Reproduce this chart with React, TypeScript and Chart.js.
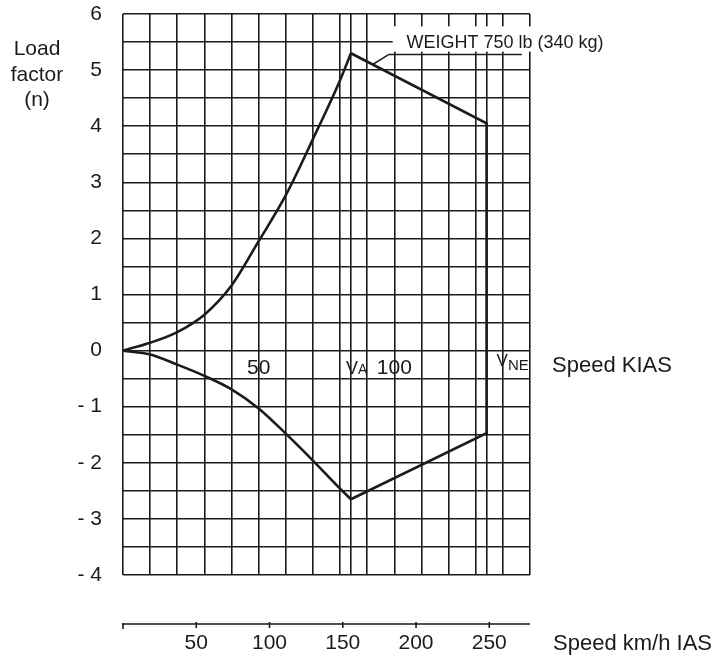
import React, { useEffect, useRef } from 'react';
import { Chart, registerables } from 'chart.js';
Chart.register(...registerables);

// ---- data ----
const KT_MIN = 0;
const KT_MAX = 150;
const N_MIN = -4;
const N_MAX = 6;
const KT_GRID = [0, 10, 20, 30, 40, 50, 60, 70, 80, 90, 100, 110, 120, 130, 140, 150];
const VA = 84;
const VNE = 134;
const N_GRID_STEP = 0.5;
const upperSpeeds = [0, 10, 20, 30, 40, 50, 60, 70, 80, 84];
const upperLoad = [0, 0.14, 0.33, 0.64, 1.16, 1.95, 2.77, 3.77, 4.82, 5.3];
const edgeSpeeds = [84, 134, 134, 84];
const edgeLoad = [5.3, 4.05, -1.47, -2.65];
const lowerSpeeds = [0, 10, 20, 30, 40, 50, 60, 70, 80, 84];
const lowerLoad = [0, -0.07, -0.25, -0.45, -0.69, -1.03, -1.48, -1.96, -2.46, -2.65];
const KMH_PER_KT = 1.852;
const kmhTicks = [50, 100, 150, 200, 250];
const ktLabels = [50, 100];
const weightText = 'WEIGHT 750 lb (340 kg)';
// annotation anchor points (kt, n)
const leaderTip = [92, 5.1];
const leaderElbow = [98, 5.28];
const leaderEndKt = 147;
const weightTextAt = [104.5, 5.39];
const weightBox = [99.4, 5.78, 5.33];

const INK = '#1b1b1b';
const FONT = "'Liberation Sans', Arial, Helvetica, sans-serif";

const fmtLoad = (v: number) => {
  if (Math.abs(v - Math.round(v)) > 1e-6) return '';
  const r = Math.round(v);
  return r < 0 ? '- ' + Math.abs(r) : String(r);
};

const pts = (xs: number[], ys: number[]) => xs.map((x, i) => ({ x, y: ys[i] }));

const overlay = {
  id: 'overlay',
  afterDraw(chart: any) {
    const { ctx } = chart;
    const x = chart.scales.x;
    const y = chart.scales.y;
    const x2 = chart.scales.x2;
    ctx.save();
    ctx.fillStyle = INK;
    ctx.strokeStyle = INK;

    // Load factor title
    ctx.font = `21px ${FONT}`;
    ctx.textAlign = 'center';
    ctx.textBaseline = 'alphabetic';
    ctx.fillText('Load', 37, 55);
    ctx.fillText('factor', 37, 81);
    ctx.fillText('(n)', 37, 106);

    // KIAS labels on zero line
    const y0 = y.getPixelForValue(0);
    ctx.font = `21px ${FONT}`;
    ktLabels.forEach((v) => {
      ctx.fillText(String(v), x.getPixelForValue(v), y0 + 23.5);
    });
    ctx.textAlign = 'left';
    // VA
    let px = x.getPixelForValue(VA) - 5;
    ctx.font = `18px ${FONT}`;
    ctx.fillText('V', px, y0 + 23.5);
    px += ctx.measureText('V').width;
    ctx.font = `14px ${FONT}`;
    ctx.fillText('A', px, y0 + 23.5);
    // VNE
    px = x.getPixelForValue(VNE) + 10;
    ctx.font = `17px ${FONT}`;
    ctx.fillText('V', px, y0 + 15.5);
    px += ctx.measureText('V').width;
    ctx.font = `15px ${FONT}`;
    ctx.fillText('NE', px, y0 + 19.5);

    ctx.font = `22px ${FONT}`;
    ctx.fillText('Speed KIAS', x.right + 22, y0 + 21.5);

    // km/h axis line and ticks
    const axisY = x2.top + 49;
    ctx.lineWidth = 1.6;
    ctx.beginPath();
    ctx.moveTo(x.getPixelForValue(KT_MIN) - 1, axisY);
    ctx.lineTo(x.getPixelForValue(KT_MAX), axisY);
    ctx.moveTo(x.getPixelForValue(KT_MIN), axisY - 1);
    ctx.lineTo(x.getPixelForValue(KT_MIN), axisY + 5);
    kmhTicks.forEach((v) => {
      const tx = x2.getPixelForValue(v);
      ctx.moveTo(tx, axisY - 2);
      ctx.lineTo(tx, axisY + 4);
    });
    ctx.stroke();
    ctx.font = `22px ${FONT}`;
    ctx.fillText('Speed km/h IAS', x.right + 23, axisY + 26);

    // weight annotation
    ctx.fillStyle = '#ffffff';
    const bx = x.getPixelForValue(weightBox[0]);
    const by1 = y.getPixelForValue(weightBox[1]);
    const by2 = y.getPixelForValue(weightBox[2]);
    ctx.fillRect(bx, by1, chart.width - bx, by2 - by1);
    ctx.fillStyle = INK;
    ctx.font = `18px ${FONT}`;
    ctx.fillText(weightText, x.getPixelForValue(weightTextAt[0]), y.getPixelForValue(weightTextAt[1]));
    ctx.lineWidth = 1.5;
    ctx.beginPath();
    ctx.moveTo(x.getPixelForValue(leaderTip[0]), y.getPixelForValue(leaderTip[1]));
    ctx.lineTo(x.getPixelForValue(leaderElbow[0]), y.getPixelForValue(leaderElbow[1]));
    ctx.lineTo(x.getPixelForValue(leaderEndKt), y.getPixelForValue(leaderElbow[1]));
    ctx.stroke();
    ctx.restore();
  },
};

export default function App() {
  const ref = useRef<HTMLCanvasElement | null>(null);
  useEffect(() => {
    if (!ref.current) return;
    const lineStyle = {
      borderColor: INK,
      borderWidth: 2.6,
      pointRadius: 0,
      showLine: true,
      fill: false,
    };
    const chart = new Chart(ref.current, {
      type: 'scatter',
      data: {
        datasets: [
          { ...lineStyle, data: pts(upperSpeeds, upperLoad), cubicInterpolationMode: 'monotone' },
          { ...lineStyle, data: pts(edgeSpeeds, edgeLoad), tension: 0, borderJoinStyle: 'miter' },
          { ...lineStyle, data: pts(lowerSpeeds, lowerLoad), cubicInterpolationMode: 'monotone' },
        ] as any,
      },
      options: {
        animation: false,
        responsive: false,
        events: [],
        layout: { padding: { left: 0, top: 14, right: 196, bottom: 0 } },
        plugins: { legend: { display: false }, tooltip: { enabled: false } },
        scales: {
          x: {
            type: 'linear',
            position: 'bottom',
            min: KT_MIN,
            max: KT_MAX,
            weight: 1,
            afterBuildTicks: (s: any) => {
              s.ticks = [...KT_GRID, VA, VNE].sort((a, b) => a - b).map((v) => ({ value: v }));
            },
            afterFit: (s: any) => {
              s.height = 0;
              s.paddingLeft = 0;
              s.paddingRight = 0;
            },
            ticks: { display: false },
            grid: { color: INK, lineWidth: 1.6, drawTicks: false },
            border: { display: false },
          },
          x2: {
            type: 'linear',
            position: 'bottom',
            min: KT_MIN * KMH_PER_KT,
            max: KT_MAX * KMH_PER_KT,
            weight: 2,
            afterBuildTicks: (s: any) => {
              s.ticks = kmhTicks.map((v) => ({ value: v }));
            },
            afterFit: (s: any) => {
              s.height = 83;
              s.paddingLeft = 0;
              s.paddingRight = 0;
            },
            ticks: { color: INK, font: { family: FONT, size: 21 }, padding: 56, maxRotation: 0, autoSkip: false },
            grid: { display: false, drawTicks: false },
            border: { display: false },
          },
          y: {
            type: 'linear',
            min: N_MIN,
            max: N_MAX,
            afterFit: (s: any) => {
              s.width = 123;
              s.paddingTop = 0;
              s.paddingBottom = 0;
            },
            ticks: {
              stepSize: N_GRID_STEP,
              autoSkip: false,
              color: INK,
              font: { family: FONT, size: 21 },
              padding: 21,
              callback: (v: any) => fmtLoad(Number(v)),
            },
            grid: { color: INK, lineWidth: 1.6, drawTicks: false },
            border: { display: false },
          },
        },
      } as any,
      plugins: [overlay],
    });
    return () => chart.destroy();
  }, []);
  return (
    <div style={{ position: 'absolute', left: 0, top: 0, width: 726, height: 658, background: '#fff' }}>
      <canvas ref={ref} width={726} height={658} style={{ display: 'block' }} />
    </div>
  );
}
